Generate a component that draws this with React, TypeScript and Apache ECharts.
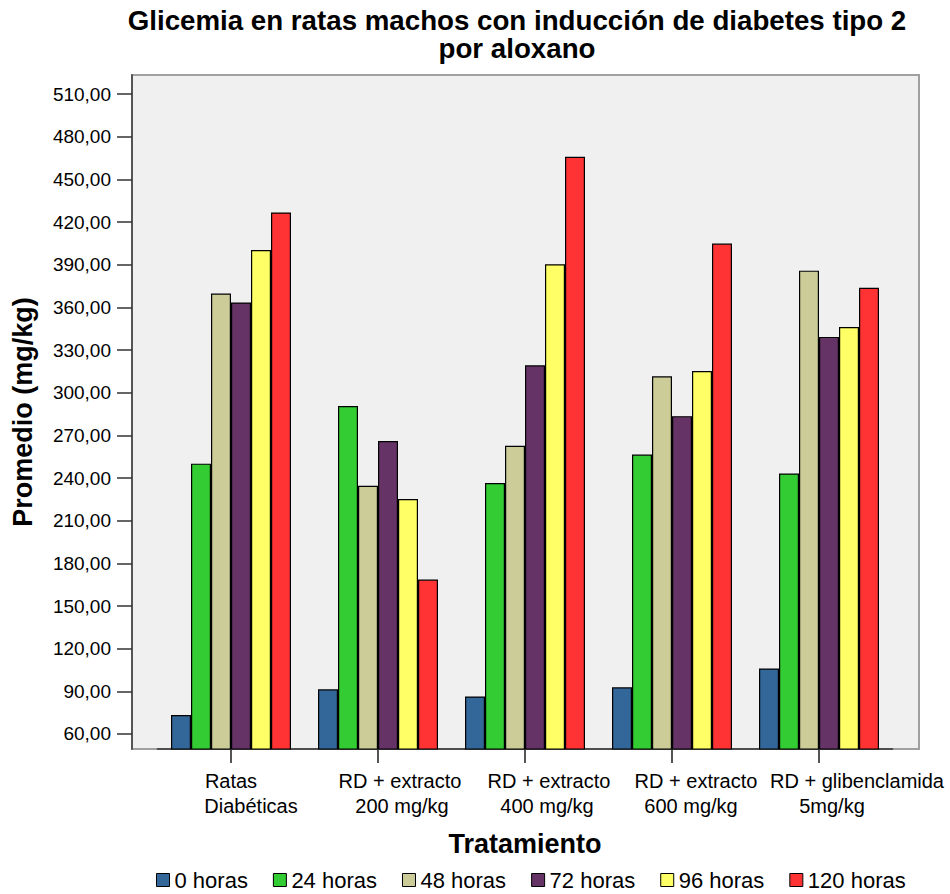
import React, { useEffect, useRef } from "react";
import * as echarts from "echarts";

const TITLE = "Glicemia en ratas machos con inducción de diabetes tipo 2\npor aloxano";
const X_NAME = "Tratamiento";
const Y_NAME = "Promedio (mg/kg)";

const categories = [
  "Ratas\nDiabéticas",
  "RD + extracto\n200 mg/kg",
  "RD + extracto\n400 mg/kg",
  "RD + extracto\n600 mg/kg",
  "RD + glibenclamida\n5mg/kg",
];

const seriesNames = ["0 horas", "24 horas", "48 horas", "72 horas", "96 horas", "120 horas"];

const h0 = [73.4, 91.4, 86.4, 92.8, 106.1];
const h24 = [250.1, 290.6, 236.4, 256.5, 243.2];
const h48 = [369.7, 234.6, 262.7, 311.5, 385.8];
const h72 = [363.4, 266.0, 319.2, 283.5, 339.2];
const h96 = [400.3, 225.2, 390.3, 315.2, 346.2];
const h120 = [426.7, 168.6, 465.8, 404.8, 373.7];

const yTicks = [60, 90, 120, 150, 180, 210, 240, 270, 300, 330, 360, 390, 420, 450, 480, 510];

const seriesData = [h0, h24, h48, h72, h96, h120];
const colors = ["#336699", "#33cc33", "#cccc99", "#663366", "#ffff66", "#ff3333"];

// horizontal shift (px) of each label line relative to its tick
const labelShifts = [
  [0, 20],
  [22, 24],
  [24, 22],
  [24, 19],
  [38, 13],
];

const FONT = "'Liberation Sans', Arial, Helvetica, sans-serif";

export default function App() {
  const ref = useRef<HTMLDivElement>(null);
  useEffect(() => {
    if (!ref.current) return;
    const chart = echarts.init(ref.current, null, { renderer: "svg" });
    const rich: Record<string, any> = {};
    labelShifts.forEach((shifts, i) =>
      shifts.forEach((s, j) => {
        rich[`c${i}l${j}`] = {
          fontSize: 20,
          lineHeight: 25,
          fontFamily: FONT,
          color: "#000",
          padding: s >= 0 ? [0, 0, 0, 2 * s] : [0, -2 * s, 0, 0],
        };
      })
    );
    const boldName = { fontFamily: FONT, fontSize: 27, fontWeight: "bold", color: "#000" };
    chart.setOption({
      animation: false,
      backgroundColor: "#ffffff",
      title: {
        text: TITLE,
        left: 512,
        top: 1,
        textAlign: "center",
        textStyle: { fontFamily: FONT, fontSize: 27.7, fontWeight: "bold", lineHeight: 28, color: "#000" },
      },
      legend: {
        data: seriesNames,
        left: 151,
        top: 864,
        itemWidth: 13,
        itemHeight: 13,
        itemGap: 25,
        icon: "rect",
        textStyle: { fontFamily: FONT, fontSize: 22, color: "#000" },
        itemStyle: { borderColor: "#000", borderWidth: 1 },
      },
      grid: { left: 157.5, right: 57.5, top: 75, bottom: 145 },
      graphic: [
        {
          type: "rect",
          z: -1,
          silent: true,
          shape: { x: 132, y: 75, width: 787, height: 674 },
          style: { fill: "#f0f0f0", stroke: "#a0a0a0", lineWidth: 2 },
        },
      ],
      xAxis: {
        type: "category",
        data: categories,
        name: X_NAME,
        nameLocation: "middle",
        nameGap: 81,
        nameTextStyle: boldName,
        axisLine: { show: true, lineStyle: { color: "#333", width: 1.5 } },
        axisTick: { show: true, alignWithLabel: true, length: 14, lineStyle: { color: "#555", width: 2 } },
        axisLabel: {
          interval: 0,
          margin: 19,
          formatter: (value: string, index: number) =>
            value
              .split("\n")
              .map((t, j) => `{c${index}l${j}|${t}}`)
              .join("\n"),
          rich,
        },
      },
      yAxis: {
        type: "value",
        min: 49.453,
        max: 523.36,
        offset: 25.5,
        name: Y_NAME,
        nameLocation: "middle",
        nameGap: 96,
        nameTextStyle: boldName,
        splitLine: { show: false },
        axisLine: { show: true, lineStyle: { color: "#555", width: 2 } },
        axisTick: { show: true, length: 15, customValues: yTicks, lineStyle: { color: "#333", width: 1.5 } },
        axisLabel: {
          customValues: yTicks,
          margin: 21,
          fontFamily: FONT,
          fontSize: 19,
          color: "#000",
          formatter: (v: number) => v.toFixed(2).replace(".", ","),
        },
      },
      series: seriesNames.map((name, i) => ({
        type: "bar",
        name,
        data: seriesData[i],
        barWidth: 20,
        barGap: "0%",
        clip: true,
        itemStyle: { color: colors[i], borderColor: "#000", borderWidth: 1.2 },
      })),
    });
    return () => chart.dispose();
  }, []);
  return <div ref={ref} style={{ position: "absolute", left: 0, top: 0, width: 950, height: 894 }} />;
}
